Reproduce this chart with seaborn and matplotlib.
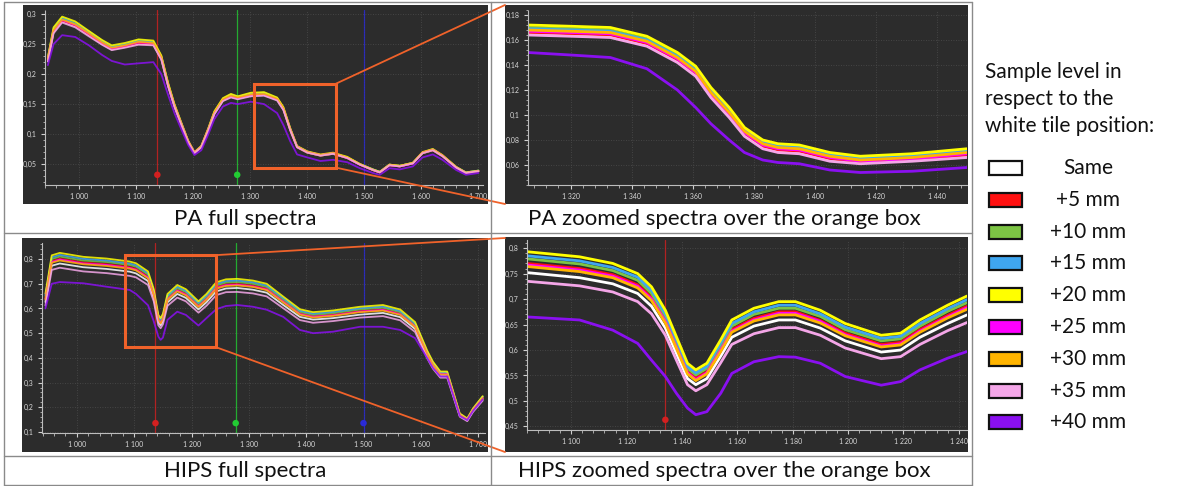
import numpy as np
import pandas as pd
import matplotlib
matplotlib.use("Agg")
import matplotlib.pyplot as plt
import seaborn as sns
from matplotlib.patches import Rectangle, ConnectionPatch
from matplotlib.lines import Line2D
from matplotlib.ticker import FuncFormatter, MultipleLocator, AutoMinorLocator

# ---------------- data ----------------
levels = ["Same", "+5 mm", "+10 mm", "+15 mm", "+20 mm", "+25 mm", "+30 mm", "+35 mm", "+40 mm"]
level_colors = ["#ffffff", "#ff1010", "#7cc444", "#3fa6f0", "#ffff00", "#ff00ff", "#ffb400", "#f4a6e8", "#8a10f0"]

# PA full spectra
pa_full_nm = [945, 955, 970, 993, 1017, 1040, 1057, 1080, 1104, 1130, 1144, 1156, 1167, 1179, 1191, 1202,
              1214, 1226, 1237, 1252, 1266, 1278, 1301, 1324, 1347, 1358, 1370, 1382, 1400, 1423, 1445,
              1470, 1492, 1515, 1527, 1544, 1562, 1585, 1602, 1620, 1637, 1661, 1678, 1700]
pa_full_same = [0.222, 0.270, 0.288, 0.280, 0.265, 0.250, 0.241, 0.245, 0.251, 0.249, 0.225, 0.180, 0.146, 0.116, 0.087, 0.068,
                0.078, 0.106, 0.134, 0.156, 0.162, 0.159, 0.164, 0.165, 0.157, 0.141, 0.107, 0.078, 0.069, 0.064, 0.067,
                0.060, 0.049, 0.040, 0.036, 0.048, 0.046, 0.051, 0.068, 0.073, 0.063, 0.044, 0.035, 0.038]
pa_full_p5 = [0.223, 0.271, 0.289, 0.281, 0.266, 0.251, 0.242, 0.246, 0.252, 0.250, 0.226, 0.181, 0.147, 0.116, 0.087, 0.068,
              0.078, 0.106, 0.135, 0.157, 0.163, 0.160, 0.165, 0.166, 0.158, 0.142, 0.107, 0.078, 0.069, 0.064, 0.067,
              0.060, 0.049, 0.040, 0.036, 0.048, 0.046, 0.051, 0.068, 0.073, 0.063, 0.044, 0.035, 0.038]
pa_full_p10 = [0.227, 0.276, 0.294, 0.286, 0.271, 0.256, 0.246, 0.250, 0.257, 0.254, 0.230, 0.184, 0.149, 0.119, 0.089, 0.069,
               0.080, 0.108, 0.137, 0.159, 0.166, 0.162, 0.168, 0.169, 0.160, 0.144, 0.109, 0.080, 0.071, 0.065, 0.068,
               0.061, 0.050, 0.041, 0.037, 0.049, 0.047, 0.052, 0.069, 0.075, 0.064, 0.045, 0.036, 0.039]
pa_full_p15 = [0.226, 0.274, 0.293, 0.284, 0.269, 0.254, 0.245, 0.249, 0.255, 0.253, 0.229, 0.183, 0.148, 0.118, 0.088, 0.069,
               0.079, 0.108, 0.136, 0.158, 0.165, 0.162, 0.167, 0.168, 0.160, 0.143, 0.109, 0.079, 0.070, 0.065, 0.068,
               0.061, 0.050, 0.041, 0.037, 0.049, 0.047, 0.052, 0.069, 0.074, 0.064, 0.045, 0.036, 0.039]
pa_full_p20 = [0.228, 0.278, 0.296, 0.288, 0.272, 0.257, 0.248, 0.252, 0.258, 0.256, 0.231, 0.185, 0.150, 0.119, 0.089, 0.070,
               0.080, 0.109, 0.138, 0.160, 0.167, 0.163, 0.169, 0.170, 0.161, 0.145, 0.110, 0.080, 0.071, 0.066, 0.069,
               0.062, 0.050, 0.041, 0.037, 0.049, 0.047, 0.052, 0.070, 0.075, 0.065, 0.045, 0.036, 0.039]
pa_full_p25 = [0.224, 0.272, 0.290, 0.282, 0.267, 0.252, 0.243, 0.247, 0.253, 0.251, 0.227, 0.181, 0.147, 0.117, 0.088, 0.069,
               0.079, 0.107, 0.135, 0.157, 0.163, 0.160, 0.165, 0.166, 0.158, 0.142, 0.108, 0.079, 0.070, 0.065, 0.068,
               0.060, 0.049, 0.040, 0.036, 0.048, 0.046, 0.051, 0.069, 0.074, 0.064, 0.044, 0.035, 0.038]
pa_full_p30 = [0.225, 0.273, 0.291, 0.283, 0.268, 0.253, 0.244, 0.248, 0.254, 0.252, 0.228, 0.182, 0.148, 0.117, 0.088, 0.069,
               0.079, 0.107, 0.136, 0.158, 0.164, 0.161, 0.166, 0.167, 0.159, 0.143, 0.108, 0.079, 0.070, 0.065, 0.068,
               0.061, 0.050, 0.040, 0.036, 0.049, 0.047, 0.052, 0.069, 0.074, 0.064, 0.045, 0.035, 0.038]
pa_full_p35 = [0.221, 0.268, 0.286, 0.278, 0.263, 0.249, 0.240, 0.244, 0.249, 0.248, 0.224, 0.179, 0.145, 0.115, 0.086, 0.068,
               0.078, 0.105, 0.133, 0.155, 0.161, 0.158, 0.163, 0.164, 0.156, 0.140, 0.106, 0.078, 0.069, 0.064, 0.067,
               0.060, 0.049, 0.040, 0.036, 0.048, 0.046, 0.051, 0.068, 0.073, 0.063, 0.044, 0.035, 0.038]
pa_full_p40 = [0.215, 0.250, 0.265, 0.262, 0.248, 0.232, 0.222, 0.216, 0.218, 0.220, 0.200, 0.165, 0.135, 0.108, 0.082, 0.065,
               0.073, 0.099, 0.125, 0.146, 0.152, 0.150, 0.154, 0.150, 0.135, 0.115, 0.088, 0.066, 0.061, 0.055, 0.057,
               0.053, 0.043, 0.035, 0.032, 0.043, 0.041, 0.046, 0.061, 0.066, 0.057, 0.040, 0.032, 0.035]

# PA zoomed spectra
pa_zoom_nm = [1306, 1320, 1333, 1345, 1355, 1361, 1366, 1372, 1377, 1383, 1388, 1395, 1405, 1415, 1432, 1450]
pa_zoom_same = [0.165, 0.164, 0.163, 0.156, 0.143, 0.132, 0.115, 0.099, 0.084, 0.074, 0.071, 0.070, 0.064, 0.062, 0.064, 0.067]
pa_zoom_p5 = [0.166, 0.165, 0.164, 0.157, 0.144, 0.133, 0.116, 0.100, 0.085, 0.075, 0.072, 0.071, 0.065, 0.062, 0.064, 0.068]
pa_zoom_p10 = [0.170, 0.169, 0.168, 0.161, 0.148, 0.137, 0.120, 0.104, 0.089, 0.079, 0.076, 0.075, 0.069, 0.066, 0.068, 0.072]
pa_zoom_p15 = [0.169, 0.168, 0.167, 0.160, 0.147, 0.136, 0.119, 0.103, 0.088, 0.078, 0.075, 0.074, 0.068, 0.065, 0.067, 0.071]
pa_zoom_p20 = [0.172, 0.171, 0.170, 0.163, 0.150, 0.139, 0.122, 0.106, 0.090, 0.080, 0.077, 0.076, 0.070, 0.067, 0.069, 0.073]
pa_zoom_p25 = [0.167, 0.166, 0.165, 0.158, 0.145, 0.134, 0.117, 0.101, 0.086, 0.076, 0.073, 0.072, 0.066, 0.063, 0.065, 0.069]
pa_zoom_p30 = [0.168, 0.167, 0.166, 0.159, 0.146, 0.135, 0.118, 0.102, 0.087, 0.077, 0.074, 0.073, 0.067, 0.064, 0.066, 0.070]
pa_zoom_p35 = [0.164, 0.163, 0.162, 0.155, 0.142, 0.131, 0.114, 0.098, 0.083, 0.073, 0.070, 0.069, 0.063, 0.061, 0.063, 0.066]
pa_zoom_p40 = [0.150, 0.148, 0.146, 0.137, 0.120, 0.106, 0.093, 0.080, 0.070, 0.064, 0.062, 0.061, 0.056, 0.054, 0.055, 0.058]

# HIPS full spectra
hips_full_nm = [945, 956, 970, 1011, 1052, 1092, 1103, 1124, 1134, 1142, 1146, 1150, 1158, 1175, 1190, 1212, 1226, 1243,
                1260, 1280, 1307, 1331, 1360, 1389, 1412, 1447, 1494, 1534, 1564, 1590, 1611, 1621, 1634, 1646,
                1657, 1668, 1681, 1691, 1708]
hips_full_same = [0.626, 0.773, 0.782, 0.767, 0.760, 0.749, 0.742, 0.711, 0.643, 0.544, 0.532, 0.548, 0.625, 0.659, 0.643, 0.596, 0.625, 0.669,
                  0.681, 0.683, 0.676, 0.664, 0.614, 0.566, 0.555, 0.561, 0.575, 0.582, 0.565, 0.517, 0.408, 0.365, 0.327, 0.327,
                  0.246, 0.166, 0.147, 0.185, 0.232]
hips_full_p5 = [0.641, 0.791, 0.801, 0.786, 0.779, 0.767, 0.760, 0.728, 0.658, 0.557, 0.545, 0.561, 0.640, 0.675, 0.658, 0.611, 0.640, 0.686,
                0.697, 0.699, 0.692, 0.680, 0.629, 0.580, 0.568, 0.575, 0.589, 0.596, 0.579, 0.529, 0.418, 0.374, 0.335, 0.335,
                0.252, 0.170, 0.151, 0.189, 0.238]
hips_full_p10 = [0.648, 0.800, 0.810, 0.794, 0.788, 0.776, 0.769, 0.737, 0.666, 0.564, 0.551, 0.568, 0.647, 0.682, 0.666, 0.618, 0.647, 0.693,
                 0.705, 0.707, 0.700, 0.687, 0.636, 0.586, 0.574, 0.581, 0.596, 0.603, 0.585, 0.535, 0.422, 0.378, 0.339, 0.339,
                 0.255, 0.172, 0.152, 0.191, 0.241]
hips_full_p15 = [0.653, 0.807, 0.817, 0.801, 0.794, 0.782, 0.775, 0.743, 0.671, 0.568, 0.555, 0.572, 0.652, 0.688, 0.671, 0.623, 0.652, 0.699,
                 0.711, 0.713, 0.706, 0.693, 0.642, 0.591, 0.579, 0.586, 0.601, 0.608, 0.590, 0.540, 0.426, 0.381, 0.342, 0.342,
                 0.257, 0.173, 0.153, 0.193, 0.243]
hips_full_p20 = [0.660, 0.815, 0.825, 0.809, 0.802, 0.790, 0.783, 0.750, 0.678, 0.574, 0.561, 0.578, 0.659, 0.695, 0.678, 0.629, 0.659, 0.706,
                 0.718, 0.720, 0.713, 0.700, 0.648, 0.597, 0.585, 0.592, 0.607, 0.614, 0.596, 0.545, 0.430, 0.385, 0.345, 0.345,
                 0.260, 0.175, 0.155, 0.195, 0.245]
hips_full_p25 = [0.638, 0.788, 0.798, 0.782, 0.776, 0.764, 0.757, 0.725, 0.656, 0.555, 0.542, 0.559, 0.637, 0.672, 0.656, 0.608, 0.637, 0.683,
                 0.694, 0.696, 0.689, 0.677, 0.627, 0.577, 0.566, 0.572, 0.587, 0.594, 0.576, 0.527, 0.416, 0.372, 0.334, 0.334,
                 0.251, 0.169, 0.150, 0.189, 0.237]
hips_full_p30 = [0.636, 0.785, 0.794, 0.779, 0.772, 0.761, 0.754, 0.722, 0.653, 0.553, 0.540, 0.557, 0.635, 0.669, 0.653, 0.606, 0.635, 0.680,
                 0.691, 0.693, 0.687, 0.674, 0.624, 0.575, 0.563, 0.570, 0.585, 0.591, 0.574, 0.525, 0.414, 0.371, 0.332, 0.332,
                 0.250, 0.169, 0.149, 0.188, 0.236]
hips_full_p35 = [0.612, 0.756, 0.765, 0.750, 0.743, 0.732, 0.726, 0.695, 0.629, 0.532, 0.520, 0.536, 0.611, 0.644, 0.629, 0.583, 0.611, 0.654,
                 0.666, 0.667, 0.661, 0.649, 0.601, 0.553, 0.542, 0.549, 0.563, 0.569, 0.552, 0.505, 0.399, 0.357, 0.320, 0.320,
                 0.241, 0.162, 0.144, 0.181, 0.227]
hips_full_p40 = [0.600, 0.700, 0.707, 0.702, 0.688, 0.675, 0.659, 0.613, 0.548, 0.486, 0.473, 0.482, 0.554, 0.587, 0.574, 0.531, 0.561, 0.597,
                 0.610, 0.614, 0.607, 0.595, 0.566, 0.513, 0.500, 0.506, 0.526, 0.526, 0.513, 0.480, 0.400, 0.360, 0.325, 0.325,
                 0.245, 0.165, 0.148, 0.185, 0.232]

# HIPS zoomed spectra
hips_zoom_nm = [1084, 1103, 1115, 1124, 1129, 1134, 1138, 1142, 1145, 1149, 1154, 1158, 1166, 1175, 1181, 1190, 1199, 1212, 1219, 1226, 1236, 1243]
hips_zoom_same = [0.752, 0.742, 0.730, 0.711, 0.686, 0.643, 0.593, 0.544, 0.532, 0.544, 0.588, 0.625, 0.647, 0.659, 0.659, 0.643, 0.618, 0.596, 0.600, 0.625, 0.652, 0.669]
hips_zoom_p5 = [0.770, 0.760, 0.748, 0.728, 0.703, 0.658, 0.608, 0.557, 0.545, 0.557, 0.602, 0.640, 0.662, 0.675, 0.675, 0.658, 0.633, 0.611, 0.615, 0.640, 0.668, 0.686]
hips_zoom_p10 = [0.779, 0.769, 0.756, 0.737, 0.711, 0.666, 0.615, 0.564, 0.551, 0.564, 0.609, 0.647, 0.670, 0.682, 0.682, 0.666, 0.640, 0.618, 0.622, 0.647, 0.676, 0.693]
hips_zoom_p15 = [0.785, 0.775, 0.762, 0.743, 0.717, 0.671, 0.620, 0.568, 0.555, 0.568, 0.614, 0.652, 0.675, 0.688, 0.688, 0.671, 0.645, 0.623, 0.627, 0.652, 0.681, 0.699]
hips_zoom_p20 = [0.793, 0.783, 0.770, 0.750, 0.724, 0.678, 0.626, 0.574, 0.561, 0.574, 0.620, 0.659, 0.682, 0.695, 0.695, 0.678, 0.652, 0.629, 0.633, 0.659, 0.688, 0.706]
hips_zoom_p25 = [0.767, 0.757, 0.745, 0.725, 0.700, 0.656, 0.605, 0.555, 0.542, 0.555, 0.600, 0.637, 0.659, 0.672, 0.672, 0.656, 0.630, 0.608, 0.612, 0.637, 0.665, 0.683]
hips_zoom_p30 = [0.764, 0.754, 0.742, 0.722, 0.697, 0.653, 0.603, 0.553, 0.540, 0.553, 0.597, 0.635, 0.657, 0.669, 0.669, 0.653, 0.628, 0.606, 0.610, 0.635, 0.663, 0.680]
hips_zoom_p35 = [0.735, 0.726, 0.714, 0.695, 0.671, 0.629, 0.580, 0.532, 0.520, 0.532, 0.575, 0.611, 0.632, 0.644, 0.644, 0.629, 0.604, 0.583, 0.587, 0.611, 0.638, 0.654]
hips_zoom_p40 = [0.665, 0.659, 0.639, 0.613, 0.580, 0.548, 0.515, 0.486, 0.473, 0.479, 0.515, 0.554, 0.577, 0.587, 0.586, 0.574, 0.548, 0.531, 0.538, 0.561, 0.584, 0.597]

# cursor positions (nm) and their marker heights
cursor_nm = [1137, 1277, 1500]
cursor_colors = ["#d42020", "#22cc33", "#2a2ad8"]
pa_marker_y = 0.032
hips_marker_y = 0.136
hips_zoom_cursor_nm = 1134
hips_zoom_marker_y = 0.463

captions = ["PA full spectra", "PA zoomed spectra over the orange box",
            "HIPS full spectra", "HIPS zoomed spectra over the orange box"]
legend_title = "Sample level in\nrespect to the\nwhite tile position:"


def long_df(nm, series):
    rows = []
    for lev, vals in zip(levels, series):
        for x, v in zip(nm, vals):
            rows.append((lev, x, v))
    return pd.DataFrame(rows, columns=["level", "nm", "value"])


df_pa_full = long_df(pa_full_nm, [pa_full_same, pa_full_p5, pa_full_p10, pa_full_p15, pa_full_p20,
                                   pa_full_p25, pa_full_p30, pa_full_p35, pa_full_p40])
df_pa_zoom = long_df(pa_zoom_nm, [pa_zoom_same, pa_zoom_p5, pa_zoom_p10, pa_zoom_p15, pa_zoom_p20,
                                   pa_zoom_p25, pa_zoom_p30, pa_zoom_p35, pa_zoom_p40])
df_hips_full = long_df(hips_full_nm, [hips_full_same, hips_full_p5, hips_full_p10, hips_full_p15, hips_full_p20,
                                       hips_full_p25, hips_full_p30, hips_full_p35, hips_full_p40])
df_hips_zoom = long_df(hips_zoom_nm, [hips_zoom_same, hips_zoom_p5, hips_zoom_p10, hips_zoom_p15, hips_zoom_p20,
                                       hips_zoom_p25, hips_zoom_p30, hips_zoom_p35, hips_zoom_p40])

# ---------------- style ----------------
sns.set_theme(style="dark")
plt.rcParams['font.family'] = ['Lato', 'DejaVu Sans']

W, H = 1203, 486
DARK = "#2c2c2c"
ORANGE = "#f0622a"
BORDER = "#8a8a8a"
palette = dict(zip(levels, level_colors))

fig = plt.figure(figsize=(W / 100, H / 100), dpi=100, facecolor="white")


def frac_rect(x0, y0, x1, y1):
    return [x0 / W, 1 - y1 / H, (x1 - x0) / W, (y1 - y0) / H]


def fig_pt(x, y):
    return (x / W, 1 - y / H)


def dark_panel(x0, y0, x1, y1):
    r = Rectangle((x0 / W, 1 - y1 / H), (x1 - x0) / W, (y1 - y0) / H, transform=fig.transFigure,
                  facecolor=DARK, edgecolor="none", zorder=-5)
    fig.add_artist(r)


def fmt_y(v, pos):
    return ("%g" % round(v, 3)).replace(".", ",")


def fmt_x(v, pos):
    return f"{int(round(v)):,}".replace(",", " ")


def style_ax(ax, xlim, ylim, xstep, ystep):
    ax.set_facecolor(DARK)
    ax.set_xlim(*xlim)
    ax.set_ylim(*ylim)
    ax.xaxis.set_major_locator(MultipleLocator(xstep))
    ax.yaxis.set_major_locator(MultipleLocator(ystep))
    ax.xaxis.set_minor_locator(AutoMinorLocator(5))
    ax.yaxis.set_minor_locator(AutoMinorLocator(5))
    ax.xaxis.set_major_formatter(FuncFormatter(fmt_x))
    ax.yaxis.set_major_formatter(FuncFormatter(fmt_y))
    ax.tick_params(axis="both", which="major", labelsize=5, labelcolor="#d8d8d8", color="#cfcfcf",
                   length=3, width=0.8, pad=3, bottom=True, left=True)
    ax.tick_params(axis="both", which="minor", color="#bdbdbd", length=1.8, width=0.6, bottom=True, left=True)
    for s in ["top", "right"]:
        ax.spines[s].set_visible(False)
    for s in ["left", "bottom"]:
        ax.spines[s].set_color("#bdbdbd")
        ax.spines[s].set_linestyle((0, (1, 1)))
        ax.spines[s].set_linewidth(0.8)
    ax.grid(True, which="major", color="#4d4d4d", linestyle=(0, (1, 2)), linewidth=0.6)
    ax.set_xlabel("")
    ax.set_ylabel("")


# dark panel backgrounds
dark_panel(23, 5, 488, 204)
dark_panel(505, 5, 968, 204)
dark_panel(22, 238, 488, 452)
dark_panel(505, 237, 968, 452)

ax_pa_full = fig.add_axes(frac_rect(45, 10, 483, 185))
ax_pa_zoom = fig.add_axes(frac_rect(528, 10, 967, 185))
ax_hips_full = fig.add_axes(frac_rect(42, 243, 485, 433))
ax_hips_zoom = fig.add_axes(frac_rect(527, 240, 967, 430))

PA_ZOOM_X, PA_ZOOM_Y = (1306, 1450), (0.044, 0.184)
HIPS_ZOOM_X, HIPS_ZOOM_Y = (1084, 1243), (0.443, 0.816)

sns.lineplot(data=df_pa_full, x="nm", y="value", hue="level", hue_order=levels, palette=palette,
             ax=ax_pa_full, legend=False, linewidth=1.3, alpha=0.85, sort=False)
sns.lineplot(data=df_pa_zoom, x="nm", y="value", hue="level", hue_order=levels, palette=palette,
             ax=ax_pa_zoom, legend=False, linewidth=2.0, sort=False)
sns.lineplot(data=df_hips_full, x="nm", y="value", hue="level", hue_order=levels, palette=palette,
             ax=ax_hips_full, legend=False, linewidth=1.3, alpha=0.85, sort=False)
sns.lineplot(data=df_hips_zoom, x="nm", y="value", hue="level", hue_order=levels, palette=palette,
             ax=ax_hips_zoom, legend=False, linewidth=2.0, sort=False)

style_ax(ax_pa_full, (940, 1708), (0.015, 0.307), 100, 0.05)
style_ax(ax_pa_zoom, PA_ZOOM_X, PA_ZOOM_Y, 20, 0.02)
style_ax(ax_hips_full, (939, 1712), (0.096, 0.865), 100, 0.1)
style_ax(ax_hips_zoom, HIPS_ZOOM_X, HIPS_ZOOM_Y, 20, 0.05)

# cursors
for xc, cc in zip(cursor_nm, cursor_colors):
    ax_pa_full.axvline(xc, color=cc, lw=0.9, alpha=0.8, zorder=1)
    ax_hips_full.axvline(xc, color=cc, lw=0.9, alpha=0.8, zorder=1)
for xc, cc in zip(cursor_nm[:2], cursor_colors[:2]):
    ax_pa_full.scatter([xc], [pa_marker_y], color=cc, s=22, zorder=4, edgecolor="none")
for xc, cc in zip(cursor_nm, cursor_colors):
    ax_hips_full.scatter([xc], [hips_marker_y], color=cc, s=22, zorder=4, edgecolor="none")
ax_hips_zoom.axvline(hips_zoom_cursor_nm, color=cursor_colors[0], lw=0.9, alpha=0.8, zorder=1)
ax_hips_zoom.scatter([hips_zoom_cursor_nm], [hips_zoom_marker_y], color=cursor_colors[0], s=22, zorder=4,
                     edgecolor="none")

# orange boxes and connectors
for ax_full, zx, zy, (tl, bl) in [
        (ax_pa_full, PA_ZOOM_X, PA_ZOOM_Y, ((505, 5), (505, 204))),
        (ax_hips_full, HIPS_ZOOM_X, HIPS_ZOOM_Y, ((505, 238), (505, 452)))]:
    ax_full.add_patch(Rectangle((zx[0], zy[0]), zx[1] - zx[0], zy[1] - zy[0], fill=False,
                                edgecolor=ORANGE, lw=2.2, zorder=6, clip_on=False))
    for (yd, ptB) in [(zy[1], tl), (zy[0], bl)]:
        con = ConnectionPatch(xyA=(zx[1], yd), coordsA=ax_full.transData,
                              xyB=fig_pt(*ptB), coordsB=fig.transFigure,
                              color=ORANGE, lw=1.3, zorder=7)
        fig.add_artist(con)

# captions
cap_pos = [(245, 219), (724, 219), (245, 471), (724, 471)]
for txt, (cx, cy) in zip(captions, cap_pos):
    fig.text(cx / W, 1 - cy / H, txt, ha="center", va="center", fontsize=16, color="#111111")

# table borders
def hline(y, x0, x1):
    fig.add_artist(Line2D([x0 / W, x1 / W], [1 - y / H, 1 - y / H], transform=fig.transFigure,
                          color=BORDER, lw=1.0, zorder=8))


def vline(x, y0, y1):
    fig.add_artist(Line2D([x / W, x / W], [1 - y0 / H, 1 - y1 / H], transform=fig.transFigure,
                          color=BORDER, lw=1.0, zorder=8))


hline(2, 4, 972)
hline(233, 4, 972)
hline(456, 4, 972)
hline(485, 4, 972)
vline(4, 2, 485)
vline(491, 2, 485)
vline(972, 2, 485)

# legend (manual, in the right cell)
fig.text(985 / W, 1 - 62 / H, legend_title, ha="left", va="top", fontsize=15, color="#111111",
         linespacing=1.45)
for i, (lab, col) in enumerate(zip(levels, level_colors)):
    cy = 168 + i * 31.8
    fig.add_artist(Rectangle((989 / W, 1 - (cy + 7) / H), 33 / W, 14 / H, transform=fig.transFigure,
                             facecolor=col, edgecolor="#111111", lw=1.6, zorder=9))
    fig.text(1088 / W, 1 - cy / H, lab, ha="center", va="center", fontsize=15, color="#111111")

fig.savefig("out.png", dpi=100, facecolor="white")
